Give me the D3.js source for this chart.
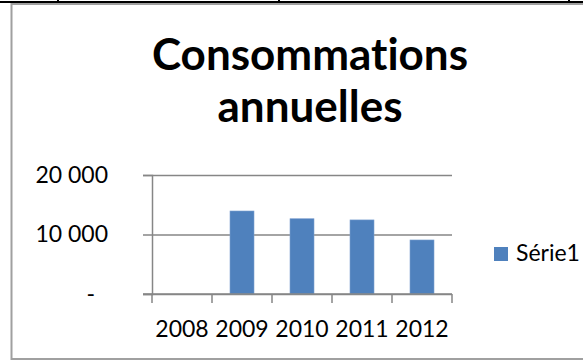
<!DOCTYPE html>
<meta charset="utf-8">
<script src="https://d3js.org/d3.v7.min.js"></script>
<head>
<style>
  body { margin: 0; background: #fff; }
  svg { display: block; font-family: Lato, "Open Sans", sans-serif; font-variant-ligatures: none; }
</style>
</head>
<body>
<div id="viz"></div>
<script>
// data
const years = ["2008", "2009", "2010", "2011", "2012"];
const values = [null, 13950, 12650, 12450, 9080];
const yTicks = [0, 10000, 20000];
const seriesName = "Série1";
const titleLines = ["Consommations", "annuelles"];

const W = 583, H = 361;
const plot = {left: 152, right: 452, top: 175, bottom: 294};
const gridColor = "#868686";
const barColor = "#4F81BD";

const svg = d3.select("#viz")
  .append("svg")
    .attr("width", W)
    .attr("height", H);

// table border above the chart (cell edges)
svg.append("rect").attr("x", 0).attr("y", 1).attr("width", W).attr("height", 2).attr("fill", "#000");
[58, 279, 569].forEach(function(x) {
  svg.append("rect").attr("x", x - 1).attr("y", 0).attr("width", 2).attr("height", 3).attr("fill", "#000");
});

// chart frame
svg.append("rect")
  .attr("x", 11.5).attr("y", 4)
  .attr("width", 620).attr("height", 355)
  .attr("fill", "#fff")
  .attr("stroke", "#a0a0a0")
  .attr("stroke-width", 2);

// title
svg.append("g")
  .selectAll("text")
  .data(titleLines)
  .join("text")
    .attr("x", 310)
    .attr("y", (d, i) => 70 + i * 52)
    .attr("text-anchor", "middle")
    .attr("font-weight", "bold")
    .attr("font-size", 44)
    .attr("fill", "#000")
    .text(d => d);

const x = d3.scaleBand()
  .domain(years)
  .range([plot.left, plot.right])
  .paddingInner(0.6)
  .paddingOuter(0.3);

const y = d3.scaleLinear()
  .domain([0, 20000])
  .range([plot.bottom, plot.top]);

const fr = d3.formatLocale({decimal: ",", thousands: " ", grouping: [3], currency: ["", " €"]});
const fmt = d => d === 0 ? "-" : fr.format(",")(d);

// gridlines + y axis
const yAxis = svg.append("g")
  .attr("transform", `translate(${plot.left},0)`)
  .call(d3.axisLeft(y).tickValues(yTicks).tickSize(9).tickFormat(fmt));
yAxis.select(".domain").attr("stroke", gridColor).attr("stroke-width", 1.5);
yAxis.selectAll(".tick line").attr("stroke", gridColor).attr("stroke-width", 1.5)
  .attr("x2", -9).clone().attr("x2", plot.right - plot.left).attr("x1", 0);
yAxis.selectAll(".tick text")
  .attr("x", d => d === 0 ? -57 : -44)
  .attr("font-size", 23)
  .attr("font-family", "Lato, sans-serif")
  .attr("fill", "#000");

// bars
svg.append("g")
  .selectAll("rect")
  .data(years.map((d, i) => ({year: d, value: values[i]})).filter(d => d.value != null))
  .join("rect")
    .attr("x", d => x(d.year))
    .attr("y", d => y(d.value))
    .attr("width", x.bandwidth())
    .attr("height", d => y(0) - y(d.value))
    .attr("fill", barColor)
    .attr("stroke", "#7da0d0")
    .attr("stroke-width", 0.6);

// x axis: ticks at band edges
const step = x.step();
const edges = d3.range(years.length + 1).map(i => plot.left + i * step);
const xAxis = svg.append("g");
xAxis.append("line")
  .attr("x1", plot.left - 9).attr("x2", plot.right)
  .attr("y1", y(0)).attr("y2", y(0))
  .attr("stroke", gridColor).attr("stroke-width", 1.5);
xAxis.selectAll(".edge")
  .data(edges)
  .join("line")
    .attr("class", "edge")
    .attr("x1", d => d).attr("x2", d => d)
    .attr("y1", y(0)).attr("y2", y(0) + 9)
    .attr("stroke", gridColor).attr("stroke-width", 1.5);
xAxis.selectAll("text")
  .data(years)
  .join("text")
    .attr("x", d => x(d) + x.bandwidth() / 2)
    .attr("y", 337)
    .attr("text-anchor", "middle")
    .attr("font-size", 23)
    .attr("fill", "#000")
    .text(d => d);

// legend
const legend = svg.append("g").attr("transform", "translate(494,247)");
legend.append("rect").attr("width", 14).attr("height", 14).attr("fill", barColor);
legend.append("text")
  .attr("x", 22).attr("y", 14)
  .attr("font-size", 23)
  .attr("fill", "#000")
  .text(seriesName);
</script>
</body>
